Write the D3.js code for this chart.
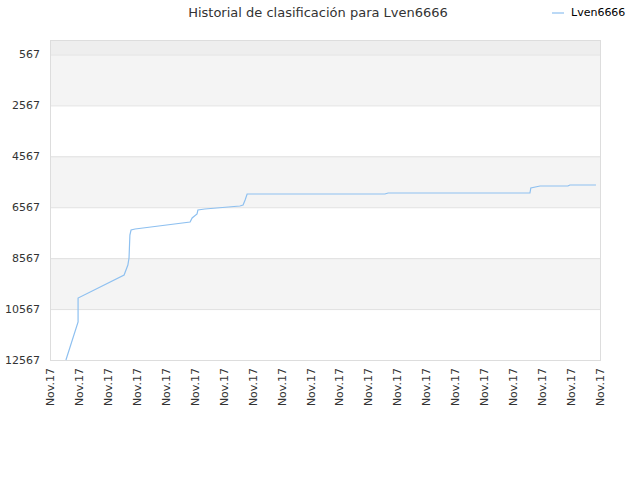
<!DOCTYPE html>
<html><head><meta charset="utf-8">
<script src="https://cdn.jsdelivr.net/npm/d3@7"></script>
<style>body{margin:0;background:#fff;font-family:"DejaVu Sans",sans-serif}</style>
</head><body><svg width="640" height="480"></svg>
<script>
// tick labels and values
const xLabels = Array(20).fill("Nov.17");
const yTicks = [567, 2567, 4567, 6567, 8567, 10567, 12567];
const xIdx = [0.55, 0.97, 0.97, 2.56, 2.69, 2.73, 2.76, 2.80, 2.94, 4.84, 4.91, 5.08, 5.11, 5.35, 6.56, 6.67, 6.74, 6.81, 11.57, 11.68, 16.58, 16.61, 16.93, 17.89, 17.96, 18.86];
const ranks = [12567, 11075, 10132, 9229, 8836, 8561, 7658, 7462, 7422, 7147, 6990, 6833, 6676, 6637, 6519, 6480, 6283, 6048, 6048, 6009, 6009, 5812, 5734, 5734, 5694, 5694];

const svg = d3.select("svg");
const mLeft = 50, mRight = 600, mTop = 40, mBottom = 360;

const x = d3.scaleLinear().domain([0, xLabels.length - 1]).range([mLeft, mRight]);
const y = d3.scaleLinear().domain([0, 12567]).range([mTop, mBottom]);

// alternating bands
const bands = [[0, 567]].concat(d3.range(yTicks.length - 1).map(i => [yTicks[i], yTicks[i + 1]]));
svg.append("g").selectAll("rect").data(bands).enter().append("rect")
    .attr("x", mLeft).attr("width", mRight - mLeft)
    .attr("y", d => y(d[0])).attr("height", d => y(d[1]) - y(d[0]))
    .attr("fill", (d, i) => i === 0 ? "#eeeeee" : (i % 2 === 1 ? "#f4f4f4" : "#ffffff"));

// grid lines
svg.append("g").selectAll("line").data(yTicks).enter().append("line")
    .attr("x1", mLeft).attr("x2", mRight)
    .attr("y1", d => y(d) + 0.5).attr("y2", d => y(d) + 0.5)
    .attr("stroke", "#e0e0e0");
svg.append("rect").attr("x", mLeft + 0.5).attr("y", mTop + 0.5)
    .attr("width", mRight - mLeft).attr("height", mBottom - mTop)
    .attr("fill", "none").attr("stroke", "#dddddd");

// y labels
svg.append("g").selectAll("text").data(yTicks).enter().append("text")
    .attr("x", mLeft - 10).attr("y", d => y(d) + 4)
    .attr("text-anchor", "end").attr("font-size", 11).attr("fill", "#333")
    .text(d => d);

// x labels
svg.append("g").selectAll("text").data(xLabels).enter().append("text")
    .attr("transform", (d, i) => `translate(${x(i) + 4},${mBottom + 8}) rotate(-90)`)
    .attr("text-anchor", "end").attr("font-size", 11).attr("fill", "#333")
    .text(d => d);

// line
const pts = xIdx.map((v, i) => [v, ranks[i]]);
svg.append("path").datum(pts)
    .attr("d", d3.line().x(d => x(d[0])).y(d => y(d[1])))
    .attr("fill", "none").attr("stroke", "#8ec0f0").attr("stroke-width", 1.2);

// title
svg.append("text").attr("x", 318).attr("y", 17).attr("text-anchor", "middle")
    .attr("font-size", 13).attr("fill", "#333")
    .text("Historial de clasificación para Lven6666");

// legend
svg.append("line").attr("x1", 552).attr("x2", 564).attr("y1", 13).attr("y2", 13)
    .attr("stroke", "#8ec0f0").attr("stroke-width", 1.2);
svg.append("text").attr("x", 571).attr("y", 16).attr("font-size", 11).attr("fill", "#000")
    .text("Lven6666");
</script></body></html>
